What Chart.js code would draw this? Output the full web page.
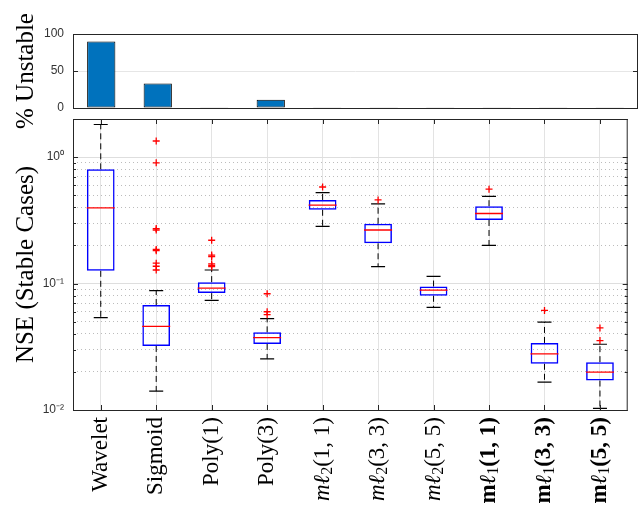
<!DOCTYPE html>
<html>
<head>
<meta charset="utf-8">
<script src="https://cdn.jsdelivr.net/npm/chart.js@4/dist/chart.umd.min.js"></script>
<style>
  html, body { margin: 0; padding: 0; background: #fff; }
  #wrap { position: relative; width: 643px; height: 519px; }
  #wrap canvas { position: absolute; left: 0; top: 0; }
</style>
</head>
<body>
<div id="wrap">
  <canvas id="nse" width="643" height="519"></canvas>
  <canvas id="unstable" width="643" height="519"></canvas>
</div>
<script>
// Data
const categories = ["Wavelet", "Sigmoid", "Poly(1)", "Poly(3)", "mℓ₂(1, 1)", "mℓ₂(3, 3)", "mℓ₂(5, 5)", "mℓ₁(1, 1)", "mℓ₁(3, 3)", "mℓ₁(5, 5)"];

// top panel: % of unstable cases
const pctUnstable = [90, 33, 1, 11, 1, 1, 1, 1, 1, 1];
const pctTicks = [0, 50, 100];

// bottom panel: box plot of NSE
const whiskerHigh = [1.81, 0.088, 0.128, 0.0527, 0.524, 0.427, 0.114, 0.488, 0.0496, 0.0331];
const boxHigh = [0.80, 0.0676, 0.1026, 0.0411, 0.458, 0.297, 0.0947, 0.409, 0.0339, 0.0239];
const medians = [0.397, 0.0458, 0.092, 0.0373, 0.417, 0.265, 0.0887, 0.358, 0.0278, 0.0199];
const boxLow = [0.126, 0.0321, 0.084, 0.0333, 0.383, 0.208, 0.080, 0.318, 0.0232, 0.0171];
const whiskerLow = [0.0537, 0.0141, 0.0735, 0.0254, 0.283, 0.136, 0.0648, 0.200, 0.0166, 0.0103];
const outliers = [
  [],
  [1.34, 0.90, 0.272, 0.265, 0.186, 0.182, 0.145, 0.137, 0.128],
  [0.22, 0.168, 0.163, 0.143, 0.139, 0.136],
  [0.083, 0.0598, 0.0567],
  [0.58],
  [0.458],
  [],
  [0.557],
  [0.0613],
  [0.0446, 0.0354]
];
const nseTickValues = [0.01, 0.1, 1];
const nseTickLabels = ["10⁻²", "10⁻¹", "10⁰"];
const nseMin = 0.01;
const nseMax = 2;

// grid values for the log axis: 1..9 x each decade
const nseGridValues = [];
nseTickValues.forEach((d) => {
  for (let k = 1; k <= 9; k++) {
    const v = Number((k * d).toPrecision(6));
    if (v <= nseMax) nseGridValues.push(v);
  }
});
nseGridValues.push(nseMax);

function isDecade(v) {
  return nseTickValues.indexOf(v) >= 0;
}

// Build box plot pieces from the arrays
const whiskerSegments = [];
const caps = [];
const outlierPoints = [];
categories.forEach((c, i) => {
  whiskerSegments.push({ x: c, y: boxHigh[i] }, { x: c, y: whiskerHigh[i] }, { x: c, y: null });
  whiskerSegments.push({ x: c, y: boxLow[i] }, { x: c, y: whiskerLow[i] }, { x: c, y: null });
  caps.push({ x: c, y: whiskerHigh[i] }, { x: c, y: whiskerLow[i] });
  outliers[i].forEach((v) => outlierPoints.push({ x: c, y: v }));
});

const serif = "'Liberation Serif', 'DejaVu Serif', serif";
const sans = "'Liberation Sans', Arial, sans-serif";

// Frame round the plot area + inward tick marks (MATLAB look)
const framePlugin = {
  id: "frame",
  afterDraw(chart, args, opts) {
    const { ctx, chartArea: a } = chart;
    ctx.save();
    ctx.strokeStyle = "#262626";
    ctx.lineWidth = 1;
    ctx.strokeRect(a.left + 0.5, a.top + 0.5, a.right - a.left - 1, a.bottom - a.top);

    const y = chart.scales.y;
    ctx.beginPath();
    y.ticks.forEach((t) => {
      const py = Math.round(y.getPixelForValue(t.value)) + 0.5;
      const len = opts.log && !isDecade(t.value) ? 3 : 5;
      ctx.moveTo(a.left, py); ctx.lineTo(a.left + len, py);
      ctx.moveTo(a.right, py); ctx.lineTo(a.right - len, py);
    });
    if (opts.xTicks) {
      const x = chart.scales.x;
      x.ticks.forEach((t, i) => {
        const px = Math.round(x.getPixelForTick(i)) + 0.5;
        ctx.moveTo(px, a.top); ctx.lineTo(px, a.top + 5);
        ctx.moveTo(px, a.bottom); ctx.lineTo(px, a.bottom - 5);
      });
    }
    ctx.stroke();
    ctx.restore();
  }
};

// Split "mℓ₂(1, 1)" into styled pieces
function labelParts(name) {
  const size = 23;
  if (name.indexOf("mℓ") !== 0) {
    return [{ text: name, font: size + "px " + serif }];
  }
  const sub = name.charAt(2) === "₁" ? "1" : "2";
  const bold = sub === "1";
  return [
    { text: "m", font: (bold ? "bold " : "italic ") + size + "px " + serif },
    { text: "ℓ", font: "italic " + size + "px " + serif },
    { text: sub, font: "16px " + serif, dy: 5 },
    { text: name.slice(3), font: (bold ? "bold " : "") + size + "px " + serif }
  ];
}

// Rotated category labels under the box plot
const labelPlugin = {
  id: "mathLabels",
  afterDraw(chart) {
    const { ctx, chartArea: a } = chart;
    const x = chart.scales.x;
    categories.forEach((name, i) => {
      const parts = labelParts(name);
      ctx.save();
      ctx.translate(x.getPixelForTick(i), a.bottom + 7);
      ctx.rotate(-Math.PI / 2);
      ctx.textBaseline = "middle";
      ctx.textAlign = "left";
      ctx.fillStyle = "#000";
      let total = 0;
      parts.forEach((p) => {
        ctx.font = p.font;
        p.w = ctx.measureText(p.text).width;
        total += p.w;
      });
      let cx = -total;
      parts.forEach((p) => {
        ctx.font = p.font;
        ctx.fillText(p.text, cx, p.dy || 0);
        cx += p.w;
      });
      ctx.restore();
    });
  }
};

// 1. Bottom chart: box plot on a log axis
new Chart(document.getElementById("nse"), {
  type: "bar",
  data: {
    labels: categories,
    datasets: [
      {
        type: "line",
        data: whiskerSegments,
        borderColor: "#000",
        borderWidth: 1,
        borderDash: [6, 4],
        pointRadius: 0,
        spanGaps: false,
        fill: false,
        order: 5
      },
      {
        type: "bar",
        data: boxLow.map((v, i) => [v, boxHigh[i]]),
        backgroundColor: "rgba(0,0,0,0)",
        borderColor: "#0000ff",
        borderWidth: 1.5,
        borderSkipped: false,
        barPercentage: 0.5,
        categoryPercentage: 1,
        order: 4
      },
      {
        type: "line",
        data: caps,
        showLine: false,
        pointStyle: "line",
        pointRadius: 7,
        pointBorderColor: "#000",
        pointBorderWidth: 1.2,
        order: 3
      },
      {
        type: "line",
        data: medians,
        showLine: false,
        pointStyle: "line",
        pointRadius: 14,
        pointBorderColor: "#ff0000",
        pointBorderWidth: 1.3,
        order: 2
      },
      {
        type: "line",
        data: outlierPoints,
        showLine: false,
        pointStyle: "cross",
        pointRadius: 3.5,
        pointBorderColor: "#ff0000",
        pointBorderWidth: 1.3,
        order: 1
      }
    ]
  },
  options: {
    responsive: false,
    animation: false,
    events: [],
    layout: { padding: { top: 119, bottom: 109, left: 0, right: 5 } },
    plugins: {
      legend: { display: false },
      tooltip: { enabled: false },
      frame: { xTicks: true, log: true }
    },
    scales: {
      x: {
        grid: { offset: false, color: "#e3e3e3", drawTicks: false },
        ticks: { display: false },
        border: { display: false },
        afterFit: (s) => { s.height = 0; }
      },
      y: {
        type: "logarithmic",
        min: nseMin,
        max: nseMax,
        afterBuildTicks: (s) => { s.ticks = nseGridValues.map((v) => ({ value: v })); },
        ticks: {
          autoSkip: false,
          padding: 9,
          color: "#333",
          font: { family: sans, size: 12 },
          callback: (v) => {
            const i = nseTickValues.indexOf(v);
            return i < 0 ? "" : nseTickLabels[i];
          }
        },
        grid: {
          drawTicks: false,
          color: (c) => (isDecade(c.tick.value) ? "#dedede" : "rgba(0,0,0,0)")
        },
        border: { display: false },
        title: {
          display: true,
          text: "NSE (Stable Cases)",
          color: "#000",
          font: { family: serif, size: 25 },
          padding: { top: 11, bottom: 0 }
        },
        afterFit: (s) => { s.width = 73; }
      },
      yMinor: {
        type: "logarithmic",
        position: "right",
        min: nseMin,
        max: nseMax,
        afterBuildTicks: (s) => { s.ticks = nseGridValues.map((v) => ({ value: v })); },
        ticks: { display: false },
        grid: {
          drawTicks: false,
          color: (c) => (isDecade(c.tick.value) ? "rgba(0,0,0,0)" : "#bcbcbc")
        },
        border: { display: false, dash: [1, 3] },
        afterFit: (s) => { s.width = 0; }
      }
    }
  },
  plugins: [framePlugin, labelPlugin]
});

// 2. Top chart: % unstable bars
new Chart(document.getElementById("unstable"), {
  type: "bar",
  data: {
    labels: categories,
    datasets: [
      {
        data: pctUnstable,
        backgroundColor: "#0072BD",
        borderColor: "#000",
        borderWidth: 1,
        borderSkipped: false,
        barPercentage: 0.5,
        categoryPercentage: 1
      }
    ]
  },
  options: {
    responsive: false,
    animation: false,
    events: [],
    layout: { padding: { top: 34, bottom: 411, left: 0, right: 5 } },
    plugins: {
      legend: { display: false },
      tooltip: { enabled: false },
      frame: { xTicks: false, log: false }
    },
    scales: {
      x: {
        grid: { display: false },
        ticks: { display: false },
        border: { display: false },
        afterFit: (s) => { s.height = 0; }
      },
      y: {
        min: 0,
        max: 100,
        afterBuildTicks: (s) => { s.ticks = pctTicks.map((v) => ({ value: v })); },
        ticks: { padding: 9, color: "#333", font: { family: sans, size: 12 } },
        grid: { drawTicks: false, color: "#e6e6e6" },
        border: { display: false },
        title: {
          display: true,
          text: "% Unstable",
          color: "#000",
          font: { family: serif, size: 25 },
          padding: { top: 11, bottom: 0 }
        },
        afterFit: (s) => { s.width = 73; }
      }
    }
  },
  plugins: [framePlugin]
});
</script>
</body>
</html>
